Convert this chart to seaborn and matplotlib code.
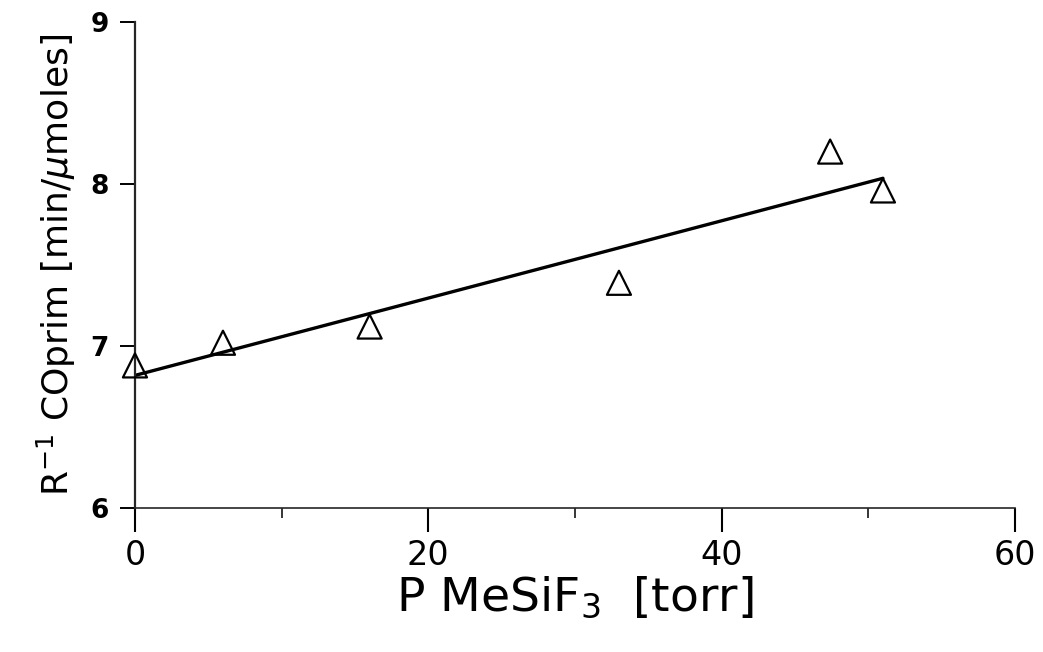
import numpy as np
import pandas as pd
import matplotlib
matplotlib.use("Agg")
import matplotlib.pyplot as plt
from matplotlib.ticker import MultipleLocator
import seaborn as sns

# Measured points: MeSiF3 pressure vs. inverse CO(prim) rate
pressure_torr = [0.0, 6.0, 16.0, 33.0, 47.4, 51.0]
inv_rate = [6.88, 7.02, 7.12, 7.39, 8.20, 7.96]

x_ticks = [0, 20, 40, 60]
y_ticks = [6, 7, 8, 9]

df = pd.DataFrame({"P": pressure_torr, "R": inv_rate})

sns.set_theme(style="ticks")
plt.rcParams["font.family"] = ["DejaVu Sans"]
plt.rcParams["mathtext.fontset"] = "dejavusans"

fig = plt.figure(figsize=(10.43, 6.52), dpi=100)
ax = fig.add_axes([0.1294, 0.2209, 0.8437, 0.7454])

# least-squares line through the points
sns.regplot(data=df, x="P", y="R", ax=ax, scatter=False, ci=None,
            line_kws=dict(color="black", lw=2.4))
sns.scatterplot(data=df, x="P", y="R", ax=ax, marker="^", s=300,
                fc="none", ec="black", linewidth=1.6, zorder=3, clip_on=False)

ax.set_xlim(0, 60)
ax.set_ylim(6, 9)
ax.set_xticks(x_ticks)
ax.set_yticks(y_ticks)
ax.xaxis.set_minor_locator(MultipleLocator(10))

for side in ("top", "right"):
    ax.spines[side].set_visible(False)
ax.spines["left"].set_linewidth(1.6)
ax.spines["bottom"].set_linewidth(1.2)

ax.tick_params(axis="x", which="major", direction="out", length=17, width=1.5,
               pad=5, labelsize=24, colors="black")
ax.tick_params(axis="x", which="minor", direction="out", length=7, width=1.3)
ax.tick_params(axis="y", which="major", direction="out", length=11, width=1.4,
               pad=8, labelsize=19, colors="black")
for lab in ax.get_yticklabels():
    lab.set_fontweight("bold")

ax.set_xlabel(r"P MeSiF$_3$  [torr]", fontsize=34, labelpad=2, color="black")
ax.set_ylabel(r"R$^{-1}$ COprim [min/$\mu$moles]", fontsize=26, labelpad=9,
              color="black")

fig.savefig("out.png", dpi=100, facecolor="white")
